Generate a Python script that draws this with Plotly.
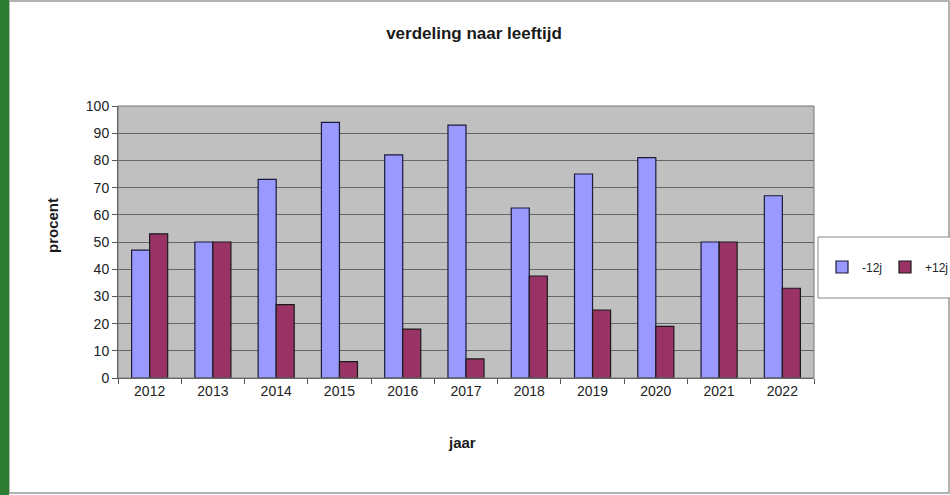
import plotly.graph_objects as go

years = ["2012", "2013", "2014", "2015", "2016", "2017", "2018", "2019", "2020", "2021", "2022"]
under12 = [47, 50, 73, 94, 82, 93, 62.5, 75, 81, 50, 67]
over12 = [53, 50, 27, 6, 18, 7, 37.5, 25, 19, 50, 33]
series_names = ["-12j", "+12j"]

W, H = 950, 495
L, R, T, B = 118, 814, 106, 378
pw, ph = R - L, B - T

def px(x):
    return (x - L) / pw

def py(y):
    return (B - y) / ph

fig = go.Figure()
fig.add_bar(x=years, y=under12, name=series_names[0],
            marker=dict(color="#9999FF", line=dict(color="#1a1a3a", width=1.2)))
fig.add_bar(x=years, y=over12, name=series_names[1],
            marker=dict(color="#993366", line=dict(color="#1a1a1a", width=1.2)))

font = "Liberation Sans, Arial, sans-serif"
fig.update_layout(
    width=W, height=H,
    margin=dict(l=L, r=W - R, t=T, b=H - B, pad=0, autoexpand=False),
    paper_bgcolor="white", plot_bgcolor="#C0C0C0",
    barmode="group", bargap=0.43, bargroupgap=0,
    font=dict(family=font, size=14, color="#222"),
    title=dict(text="<b>verdeling naar leeftijd</b>", x=px(474), xref="paper", xanchor="center",
               y=1 - 33 / H, yanchor="middle", font=dict(size=17, color="#1a1a1a")),
    xaxis=dict(type="category", tickson="boundaries", ticks="outside", ticklen=5,
               tickcolor="#555", showline=True, linecolor="#555", linewidth=1,
               showgrid=False, automargin=False, tickfont=dict(size=14)),
    yaxis=dict(range=[0, 100], dtick=10, ticks="outside", ticklen=5, tickcolor="#555",
               showline=True, linecolor="#555", linewidth=1, mirror=False, automargin=False,
               gridcolor="#666", gridwidth=1, zeroline=False, tickfont=dict(size=14)),
    legend=dict(orientation="h", x=px(822), xanchor="left", y=py(267), yanchor="middle",
                bgcolor="rgba(0,0,0,0)", borderwidth=0,
                font=dict(size=12), itemwidth=30, entrywidth=18,
                tracegroupgap=0),
    showlegend=True,
    annotations=[
        dict(text="<b>jaar</b>", xref="paper", yref="paper", x=px(462), y=py(442),
             xanchor="center", yanchor="middle", showarrow=False,
             font=dict(size=15, color="#1a1a1a")),
        dict(text="<b>procent</b>", xref="paper", yref="paper", x=px(52), y=py(226),
             xanchor="center", yanchor="middle", showarrow=False, textangle=-90,
             font=dict(size=15, color="#1a1a1a")),
    ],
    shapes=[
        dict(type="rect", xref="paper", yref="paper", x0=px(0), x1=px(9), y0=py(H), y1=py(0),
             fillcolor="#2E7D32", line=dict(width=0), layer="above"),
        dict(type="rect", xref="paper", yref="paper", x0=px(9), x1=px(949), y0=py(493), y1=py(1),
             fillcolor="rgba(0,0,0,0)", line=dict(color="#999", width=1.5), layer="below"),
        dict(type="rect", xref="paper", yref="paper", x0=px(818), x1=px(960), y0=py(298), y1=py(237),
             fillcolor="white", line=dict(color="#888", width=1), layer="below"),
        dict(type="rect", xref="paper", yref="paper", x0=px(L), x1=px(R), y0=0, y1=1,
             fillcolor="rgba(0,0,0,0)", line=dict(color="#777", width=1), layer="above"),
    ],
)

fig.write_html("out.html", config={"displayModeBar": False},
               post_script="document.body.style.margin='0';")
